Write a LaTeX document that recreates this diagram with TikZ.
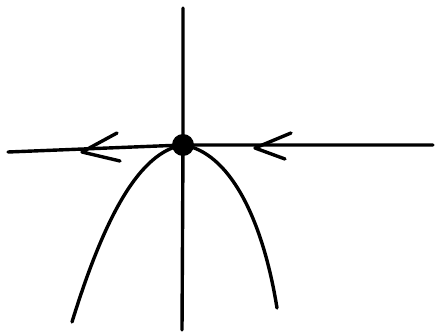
\documentclass[tikz,border=0pt]{standalone}
\begin{document}
\begin{tikzpicture}[x=1pt,y=-1pt,
  stroke/.style={line width=3.4pt,line cap=round,line join=round,black}]
\useasboundingbox (0,0) rectangle (438,334);
\node[circle,fill=black,minimum size=22pt,inner sep=0pt] (o) at (183,145) {};
\coordinate (l) at (8,152);
\coordinate (r) at (433,145);
\coordinate (t) at (183,8);
\coordinate (b) at (182,330);
\coordinate (pl) at (72,322);
\coordinate (pr) at (277,308);
\draw[stroke] (l) -- (o.center) -- (r);
\draw[stroke] (t) -- (o.center) -- (b);
\draw[stroke] (pl) .. controls (105,215) and (140,152) .. (o.center)
  .. controls (228,152) and (262,215) .. (pr);
% chevrons
\coordinate (a1) at (82,152);
\draw[stroke] (117,133) -- (a1) -- (120,161);
\coordinate (a2) at (255,148);
\draw[stroke] (291,133) -- (a2) -- (285,159);
\end{tikzpicture}
\end{document}
